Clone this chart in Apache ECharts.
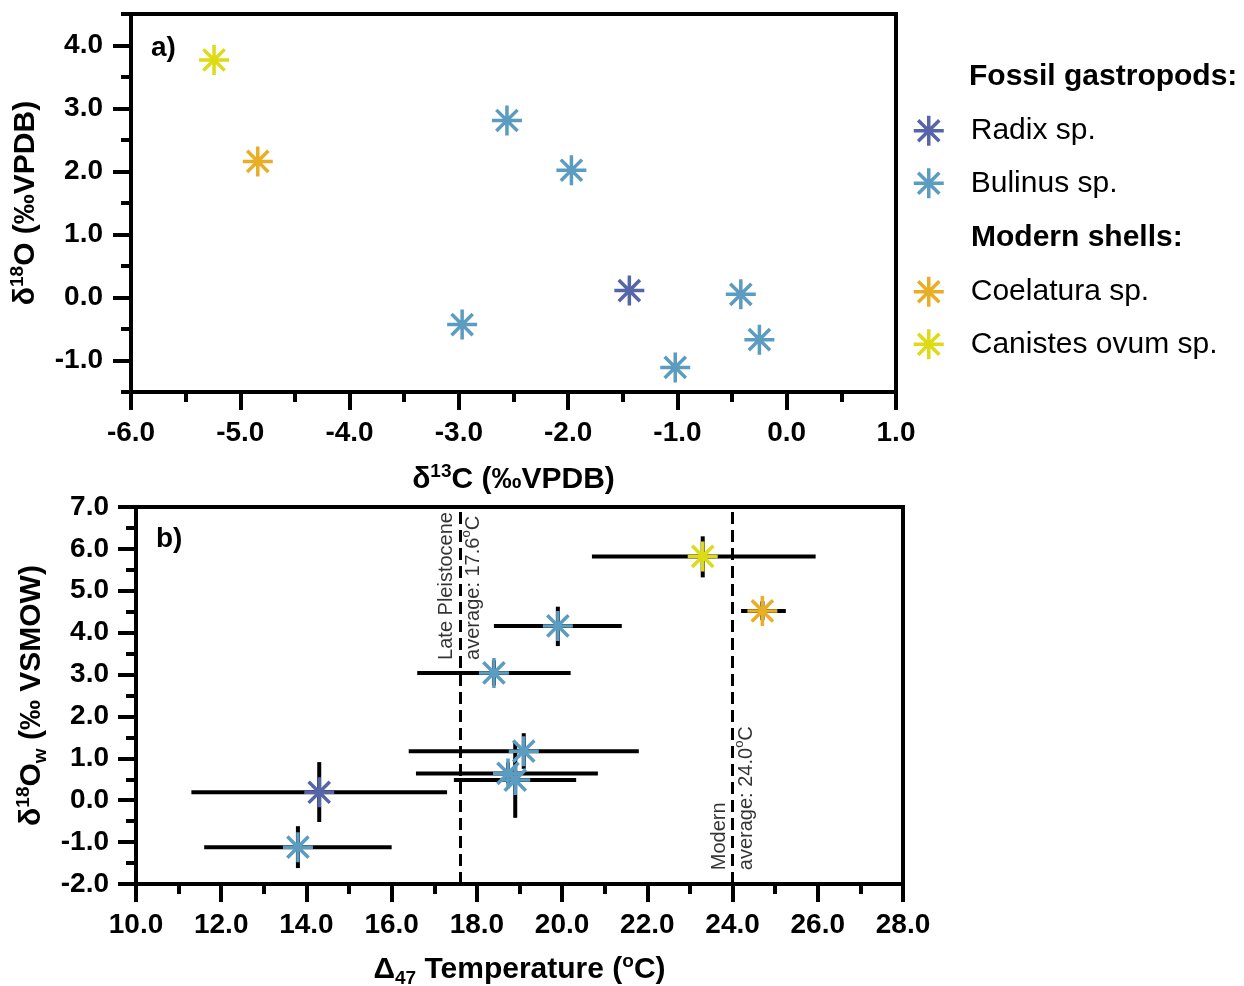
<!DOCTYPE html>
<html><head><meta charset="utf-8">
<script src="https://cdn.jsdelivr.net/npm/echarts@6/dist/echarts.min.js"></script>
<style>html,body{margin:0;padding:0;background:#fff}#c{width:1244px;height:986px}</style>
</head><body><div id="c"></div>
<script>
// ---- Panel a: [δ13C, δ18O]
const radixTop = [[-1.44, 0.11]];
const bulinusTop = [[-2.56, 2.81], [-1.97, 2.02], [-2.97, -0.43], [-0.42, 0.05], [-0.25, -0.67], [-1.02, -1.11]];
const coelaturaTop = [[-4.84, 2.16]];
const canistesTop = [[-5.24, 3.77]];
// ---- Panel b: [T, δ18Ow, Tlow, Thigh, δlow, δhigh]
const radixBottom = [[14.3, 0.19, 11.3, 17.3, -0.52, 0.91]];
const bulinusBottom = [
  [13.8, -1.12, 11.6, 16.0, -1.62, -0.62],
  [18.4, 3.04, 16.6, 20.2, 2.74, 3.34],
  [19.9, 4.16, 18.4, 21.4, 3.68, 4.62],
  [19.1, 1.17, 16.4, 21.8, 0.75, 1.6],
  [18.73, 0.64, 16.57, 20.84, 0.4, 0.9],
  [18.9, 0.48, 17.46, 20.33, -0.42, 1.38]
];
const coelaturaBottom = [[24.7, 4.52, 24.2, 25.25, 4.3, 4.75]];
const canistesBottom = [[23.3, 5.82, 20.7, 25.95, 5.32, 6.3]];
const lateAvg = 17.6;
const modernAvg = 24.0;
// ---- ticks
const topYLabels = [-1, 0, 1, 2, 3, 4];
const topYMinor = [-1.5, -0.5, 0.5, 1.5, 2.5, 3.5, 4.5];
const names = ['Radix sp.', 'Bulinus sp.', 'Coelatura sp.', 'Canistes ovum sp.'];
const colors = ['#5565A8', '#5B9CC0', '#E9AE25', '#DDDB14'];

const FONT = 'Liberation Sans';
const STAR = 'path://M0,-1L0,1M-1,0L1,0M-0.7071,-0.7071L0.7071,0.7071M-0.7071,0.7071L0.7071,-0.7071';

const chart = echarts.init(document.getElementById('c'), null, {renderer: 'canvas'});

const nameStyle = {
  fontSize: 30, fontWeight: 'bold', color: '#000', fontFamily: FONT, lineHeight: 36,
  rich: {
    sup: {fontSize: 19, fontWeight: 'bold', color: '#000', fontFamily: FONT, lineHeight: 23, verticalAlign: 'top'},
    sub: {fontSize: 19, fontWeight: 'bold', color: '#000', fontFamily: FONT, lineHeight: 14, verticalAlign: 'bottom'}
  }
};
const TICKLEN = 18, MINORLEN = 10, LBL = 28;
function axisBase(extra) {
  return Object.assign({
    axisLine: {show: true, onZero: false, lineStyle: {color: '#000', width: 4}},
    axisTick: {show: true, inside: false, length: TICKLEN, lineStyle: {color: '#000', width: 4}},
    minorTick: {show: true, splitNumber: 2, length: MINORLEN, lineStyle: {color: '#000', width: 4}},
    splitLine: {show: false},
    minorSplitLine: {show: false},
    axisLabel: {fontSize: LBL, fontWeight: 'bold', color: '#000', fontFamily: FONT, margin: 27,
      formatter: v => Number(v).toFixed(1)},
    nameLocation: 'middle',
    nameTextStyle: nameStyle
  }, extra);
}

function renderErr(params, api) {
  const x = api.value(0), y = api.value(1);
  const xl = api.coord([api.value(2), y]);
  const xh = api.coord([api.value(3), y]);
  const yl = api.coord([x, api.value(4)]);
  const yh = api.coord([x, api.value(5)]);
  const st = {stroke: '#000', lineWidth: 4};
  return {type: 'group', children: [
    {type: 'line', shape: {x1: xl[0], y1: xl[1], x2: xh[0], y2: xh[1]}, style: st},
    {type: 'line', shape: {x1: yl[0], y1: yl[1], x2: yh[0], y2: yh[1]}, style: st}
  ]};
}

const topSets = [radixTop, bulinusTop, coelaturaTop, canistesTop];
const botSets = [radixBottom, bulinusBottom, coelaturaBottom, canistesBottom];
const series = [];
topSets.forEach((d, i) => {
  series.push({
    name: names[i], type: 'scatter', xAxisIndex: 0, yAxisIndex: 0, data: d,
    symbol: STAR, symbolSize: 30,
    itemStyle: {color: 'transparent', borderColor: colors[i], borderWidth: 3.5, opacity: 1},
    z: 5
  });
});
botSets.forEach((d, i) => {
  series.push({
    type: 'custom', xAxisIndex: 1, yAxisIndex: 2, data: d, renderItem: renderErr,
    encode: {x: 0, y: 1}, z: 3, silent: true
  });
});
botSets.forEach((d, i) => {
  series.push({
    name: names[i], type: 'scatter', xAxisIndex: 1, yAxisIndex: 2, data: d.map(r => [r[0], r[1]]),
    symbol: STAR, symbolSize: 30,
    itemStyle: {color: 'transparent', borderColor: colors[i], borderWidth: 3.5, opacity: 1},
    z: 6
  });
});
// dashed average lines
series.push({
  type: 'scatter', xAxisIndex: 1, yAxisIndex: 2, data: [], silent: true,
  markLine: {
    silent: true, symbol: ['none', 'none'], animation: false,
    label: {show: false},
    lineStyle: {color: '#000', width: 3, type: [12, 6]},
    data: [{xAxis: lateAvg}, {xAxis: modernAvg}]
  }
});
const annRich = {sup: {fontSize: 13, lineHeight: 20, verticalAlign: 'top', color: '#000', fontFamily: FONT}};
function annSeries(x, y, text) {
  return {
    type: 'scatter', xAxisIndex: 1, yAxisIndex: 2, silent: true, z: 7,
    data: [[x, y]], symbolSize: 1, itemStyle: {color: 'transparent'},
    label: {show: true, position: 'inside', rotate: 90, align: 'left', verticalAlign: 'middle',
      formatter: text, fontSize: 20, lineHeight: 27, color: '#000', fontFamily: FONT, rich: annRich}
  };
}
series.push(annSeries(lateAvg, 3.35, 'Late Pleistocene\naverage: ' + lateAvg.toFixed(1) + '{sup|o}C'));
series.push(annSeries(modernAvg, -1.67, 'Modern\naverage: ' + modernAvg.toFixed(1) + '{sup|o}C'));

const legendText = {fontSize: 30, color: '#000', fontFamily: FONT, padding: [0, 0, 0, 22]};
const option = {
  animation: false,
  backgroundColor: '#fff',
  title: [
    {text: 'Fossil gastropods:', left: 964, top: 57, textStyle: {fontSize: 30, fontWeight: 'bold', color: '#000', fontFamily: FONT}},
    {text: 'Modern shells:', left: 966, top: 218, textStyle: {fontSize: 30, fontWeight: 'bold', color: '#000', fontFamily: FONT}},
    {text: 'a)', left: 146, top: 29, textStyle: {fontSize: 28, fontWeight: 'bold', color: '#000', fontFamily: FONT}},
    {text: 'b)', left: 151, top: 520, textStyle: {fontSize: 28, fontWeight: 'bold', color: '#000', fontFamily: FONT}}
  ],
  legend: [
    {data: names.slice(0, 2), orient: 'vertical', left: 912, top: 114, itemWidth: 30, itemHeight: 30, itemGap: 19,
      padding: 0, selectedMode: false, textStyle: legendText, itemStyle: {borderWidth: 3.5}},
    {data: names.slice(2), orient: 'vertical', left: 912, top: 275, itemWidth: 30, itemHeight: 30, itemGap: 19,
      padding: 0, selectedMode: false, textStyle: legendText, itemStyle: {borderWidth: 3.5}}
  ],
  grid: [
    {left: 131, top: 14, width: 765, height: 378, show: true, borderColor: '#000', borderWidth: 4,
      backgroundColor: 'transparent', outerBoundsMode: 'none', containLabel: false},
    {left: 136, top: 507, width: 767, height: 377, show: true, borderColor: '#000', borderWidth: 4,
      backgroundColor: 'transparent', outerBoundsMode: 'none', containLabel: false}
  ],
  xAxis: [
    axisBase({gridIndex: 0, type: 'value', min: -6, max: 1, interval: 1,
      name: 'δ{sup|13}C (‰VPDB)', nameGap: 70}),
    axisBase({gridIndex: 1, type: 'value', min: 10, max: 28, interval: 2,
      name: 'Δ{sub|47} Temperature ({sup|o}C)', nameGap: 68})
  ],
  yAxis: [
    axisBase({gridIndex: 0, type: 'value', min: -1.5, max: 4.5, position: 'left',
      axisLabel: {fontSize: LBL, fontWeight: 'bold', color: '#000', fontFamily: FONT, margin: 28,
        customValues: topYLabels, formatter: v => Number(v).toFixed(1)},
      axisTick: {show: true, inside: false, length: TICKLEN, customValues: topYLabels, lineStyle: {color: '#000', width: 4}},
      minorTick: {show: false},
      name: 'δ{sup|18}O (‰VPDB)', nameGap: 80}),
    {gridIndex: 0, type: 'value', min: -1.5, max: 4.5, position: 'left', offset: 0,
      axisLine: {show: false, onZero: false}, axisLabel: {show: false}, splitLine: {show: false},
      axisTick: {show: true, inside: false, length: MINORLEN, customValues: topYMinor, lineStyle: {color: '#000', width: 4}}},
    axisBase({gridIndex: 1, type: 'value', min: -2, max: 7, interval: 1,
      name: 'δ{sup|18}O{sub|w} (‰ VSMOW)', nameGap: 86})
  ],
  series: series
};
chart.setOption(option);
</script>
</body></html>
